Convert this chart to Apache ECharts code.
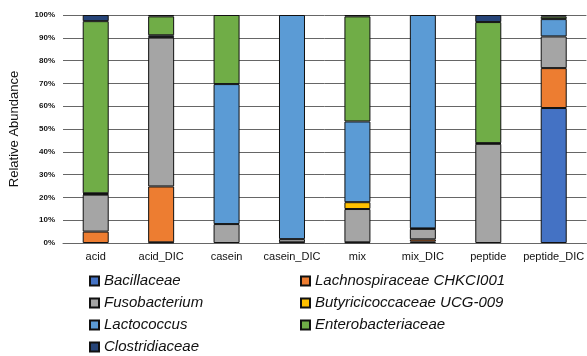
<!DOCTYPE html>
<html>
<head>
<meta charset="utf-8">
<script src="https://cdn.jsdelivr.net/npm/echarts@6/dist/echarts.min.js"></script>
<style>html,body{margin:0;padding:0;background:#fff}#c{width:587px;height:356px}</style>
</head>
<body>
<div id="c"></div>
<script>
const categories = ['acid','acid_DIC','casein','casein_DIC','mix','mix_DIC','peptide','peptide_DIC'];
const seriesNames = ['Bacillaceae','Lachnospiraceae CHKCI001','Fusobacterium','Butyricicoccaceae UCG-009','Lactococcus','Enterobacteriaceae','Clostridiaceae'];
const colors = ['#4472C4','#ED7D31','#A5A5A5','#FFC000','#5B9BD5','#70AD47','#264478'];
const bacillaceae    = [0,    0.3,  0,    0.3,  0.3,  0.6,  0,    59.2];
const lachnospiraceae= [5.0,  24.5, 0,    0,    0,    1.0,  0,    17.5];
const fusobacterium  = [16.2, 65.3, 8.3,  1.4,  14.6, 4.6,  43.5, 13.9];
const butyricicoccaceae=[0.3, 0.3,  0,    0,    3.0,  0.2,  0.3,  0];
const lactococcus    = [0.3,  0.7,  61.4, 98.3, 35.4, 93.6, 0,    7.6];
const enterobacteriaceae=[75.5,8.3, 30.3, 0,    46.1, 0,    53.1, 1.1];
const clostridiaceae = [2.7,  0.6,  0,    0,    0.6,  0,    3.1,  0.7];
const yTicks = [0,10,20,30,40,50,60,70,80,90,100];

const allData = [bacillaceae,lachnospiraceae,fusobacterium,butyricicoccaceae,lactococcus,enterobacteriaceae,clostridiaceae];
const FONT = '"Liberation Sans", Arial, sans-serif';
const chart = echarts.init(document.getElementById('c'), null, {renderer:'canvas'});
const series = seriesNames.map((n,i)=>({
  name:n, type:'bar', stack:'total', barWidth:26,
  data: allData[i].map(v => v === 0 ? '-' : v),
  itemStyle:{color:colors[i], borderColor:'#111', borderWidth:1},
  emphasis:{disabled:true}
}));
const legendCommon = {
  orient:'vertical', itemWidth:9, itemHeight:9, itemGap:6, icon:'rect', padding:0,
  textStyle:{fontFamily:FONT, fontSize:15, fontStyle:'italic', color:'#111', lineHeight:16},
  selectedMode:false
};
chart.setOption({
  animation:false,
  color:colors,
  grid:{left:60, top:15, width:528, height:228},
  legend:[
    Object.assign({left:89, top:273, data:[seriesNames[0],seriesNames[2],seriesNames[4]]}, legendCommon),
    Object.assign({left:89, top:339, data:[seriesNames[6]]}, legendCommon),
    Object.assign({left:300, top:273, data:[seriesNames[1],seriesNames[3],seriesNames[5]]}, legendCommon)
  ],
  xAxis:{
    type:'category', data:categories,
    axisLine:{show:true, lineStyle:{color:'#666', width:1}},
    axisTick:{show:false},
    axisLabel:{fontFamily:FONT, fontSize:11, color:'#111', margin:8, interval:0}
  },
  yAxis:{
    type:'value', min:0, max:100, interval:10,
    name:'Relative Abundance', nameLocation:'middle', nameGap:42,
    nameTextStyle:{fontFamily:FONT, fontSize:13, color:'#111'},
    axisLine:{show:false}, axisTick:{show:false},
    axisLabel:{fontFamily:FONT, fontSize:8, fontWeight:'bold', color:'#111', margin:8,
      formatter:v=> yTicks.includes(v) ? v+'%' : ''},
    splitLine:{show:true, lineStyle:{color:'#666', width:1}}
  },
  series:series
});
</script>
</body>
</html>
